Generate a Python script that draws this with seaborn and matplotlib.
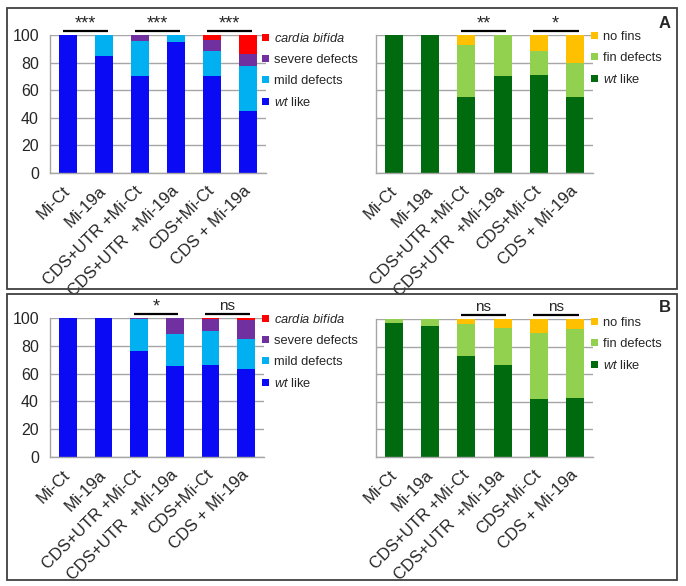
import numpy as np
import pandas as pd
import matplotlib
matplotlib.use("Agg")
import matplotlib.pyplot as plt
from matplotlib.patches import Rectangle, Patch
import seaborn as sns

sns.set_style("white")
plt.rcParams['font.family'] = ['Liberation Sans', 'DejaVu Sans']
plt.rcParams['mathtext.fontset'] = 'custom'
plt.rcParams['mathtext.rm'] = 'Liberation Sans'
plt.rcParams['mathtext.it'] = 'Liberation Sans:italic'

categories = ["Mi-Ct", "Mi-19a", "CDS+UTR +Mi-Ct", "CDS+UTR  +Mi-19a", "CDS+Mi-Ct", "CDS + Mi-19a"]

# Panel A - heart phenotypes
A_wt     = [100, 85, 70, 95, 70.5, 45]
A_mild   = [0, 15, 26, 5, 18, 32.5]
A_severe = [0, 0, 4, 0, 8, 9]
A_cardia = [0, 0, 0, 0, 3.5, 13.5]
# Panel A - fin phenotypes
A_fin_wt     = [100, 100, 55, 70, 71, 55]
A_fin_defect = [0, 0, 38, 30, 17.5, 25]
A_fin_none   = [0, 0, 7, 0, 11.5, 20]

# Panel B - heart phenotypes
B_wt     = [100, 100, 76, 65.5, 66.3, 63.4]
B_mild   = [0, 0, 23, 23.2, 24.7, 21.6]
B_severe = [0, 0, 1, 11.3, 8.5, 13.5]
B_cardia = [0, 0, 0, 0, 0.5, 1.5]
# Panel B - fin phenotypes
B_fin_wt     = [97, 95, 73.5, 66.6, 42, 43]
B_fin_defect = [3, 5, 23, 26.6, 47.6, 50]
B_fin_none   = [0, 0, 3.5, 6.8, 10.4, 7]

heart_labels = [r"$\it{cardia\ bifida}$", "severe defects", "mild defects", r"$\it{wt}$ like"]
fin_labels = ["no fins", "fin defects", r"$\it{wt}$ like"]

heart_colors = ["#FF0000", "#7030A0", "#00B0F0", "#0A0AF5"]  # top -> bottom
fin_colors = ["#FFC000", "#92D050", "#006B0E"]

A_heart_sig = ["***", "***", "***"]
A_fin_sig = [None, "**", "*"]
B_heart_sig = [None, "*", "ns"]
B_fin_sig = [None, "ns", "ns"]

W, H = 686, 586
fig = plt.figure(figsize=(W / 100, H / 100), dpi=100)

def axrect(x0, x1, ytop, ybot):
    return [x0 / W, 1 - ybot / H, (x1 - x0) / W, (ybot - ytop) / H]

GRID = "#A6A6A6"

def stacked(ax, layers, colors, show_ylabels):
    # layers bottom -> top; colors top -> bottom
    arr = np.array(layers, dtype=float)
    cum = np.cumsum(arr, axis=0)
    cols_bt = colors[::-1]
    for i in range(len(layers) - 1, -1, -1):
        df = pd.DataFrame({"cat": categories, "val": cum[i]})
        sns.barplot(data=df, x="cat", y="val", order=categories, color=cols_bt[i],
                    width=0.5, saturation=1, edgecolor="none", linewidth=0, ax=ax)
    ax.set_ylim(0, 100)
    ax.set_xlim(-0.5, 5.5)
    ax.set_yticks([0, 20, 40, 60, 80, 100])
    ax.yaxis.grid(True, color=GRID, linewidth=1)
    ax.set_axisbelow(True)
    ax.set_xlabel("")
    ax.set_ylabel("")
    for s in ["top", "right"]:
        ax.spines[s].set_visible(False)
    for s in ["left", "bottom"]:
        ax.spines[s].set_color(GRID)
        ax.spines[s].set_linewidth(1)
    ax.set_xticks(range(6))
    ax.set_xticklabels(categories, rotation=45, ha="right", va="center",
                       rotation_mode="anchor", fontsize=12)
    ax.set_xticks(np.arange(-0.5, 6, 1), minor=True)
    ax.tick_params(axis="x", which="major", length=0, pad=11)
    ax.tick_params(axis="x", which="minor", length=5, color=GRID, width=1, direction="out")
    ax.tick_params(axis="y", length=4, color=GRID, width=1, direction="out", pad=4,
                   labelsize=11.5)
    if not show_ylabels:
        ax.set_yticklabels([])

def sig(ax, marks):
    for k, m in enumerate(marks):
        if m is None:
            continue
        i = 2 * k
        ax.plot([i - 0.15, i + 1.1], [103, 103], color="black", lw=1.6,
                clip_on=False, solid_capstyle="butt")
        if m == "ns":
            ax.text(i + 0.47, 103.5, m, ha="center", va="bottom", fontsize=11,
                    clip_on=False)
        else:
            ax.text(i + 0.47, 101.5, m, ha="center", va="bottom", fontsize=13,
                    clip_on=False)

def legend(labels, colors, x, ytop):
    handles = [Patch(facecolor=c, edgecolor="none") for c in colors]
    fig.legend(handles, labels, loc="upper left", bbox_to_anchor=(x / W, 1 - ytop / H),
               frameon=False, fontsize=9.3, handlelength=0.55, handleheight=0.55,
               handletextpad=0.4, labelspacing=0.7, borderpad=0, borderaxespad=0)

# Panel A
axA1 = fig.add_axes(axrect(50, 266, 35, 173))
stacked(axA1, [A_wt, A_mild, A_severe, A_cardia], heart_colors, True)
sig(axA1, A_heart_sig)
axA2 = fig.add_axes(axrect(376, 593, 35, 173))
stacked(axA2, [A_fin_wt, A_fin_defect, A_fin_none], fin_colors, False)
sig(axA2, A_fin_sig)

# Panel B
axB1 = fig.add_axes(axrect(50, 264, 318, 457))
stacked(axB1, [B_wt, B_mild, B_severe, B_cardia], heart_colors, True)
sig(axB1, B_heart_sig)
axB2 = fig.add_axes(axrect(376, 593, 319, 457))
stacked(axB2, [B_fin_wt, B_fin_defect, B_fin_none], fin_colors, False)
sig(axB2, B_fin_sig)

legend(heart_labels, heart_colors, 262, 32)
legend(fin_labels, fin_colors, 591, 31)
legend(heart_labels, heart_colors, 262, 313)
legend(fin_labels, fin_colors, 591, 317)

fig.text(665 / W, 1 - 23 / H, "A", fontsize=12, fontweight="bold", ha="center", va="center")
fig.text(665 / W, 1 - 308 / H, "B", fontsize=12, fontweight="bold", ha="center", va="center")

for (y0, y1) in [(8, 289), (294, 580)]:
    fig.patches.append(Rectangle((7 / W, 1 - y1 / H), (677 - 7) / W, (y1 - y0) / H,
                                 transform=fig.transFigure, fill=False,
                                 edgecolor="#404040", linewidth=1.3))

fig.savefig("out.png", dpi=100)
